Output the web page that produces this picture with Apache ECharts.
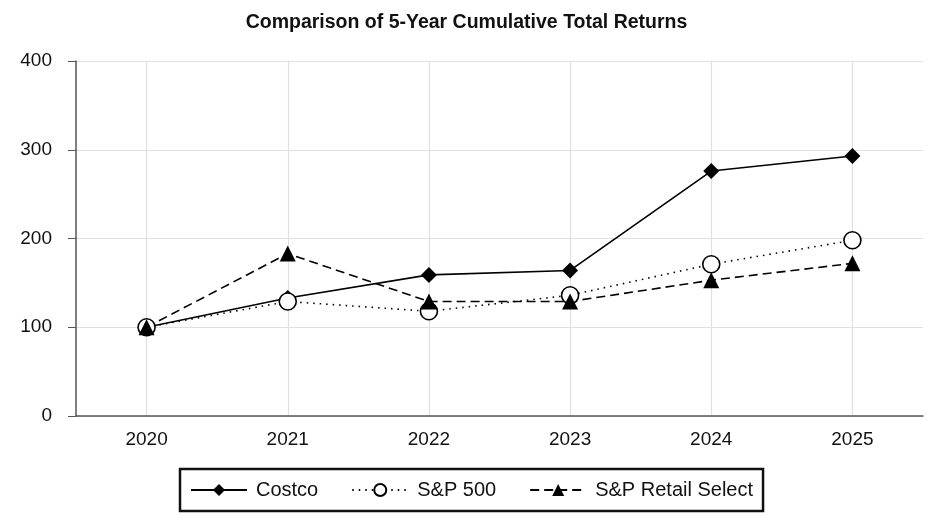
<!DOCTYPE html>
<html>
<head>
<meta charset="utf-8">
<script src="https://cdn.jsdelivr.net/npm/echarts@6/dist/echarts.min.js"></script>
<style>
html,body{margin:0;padding:0;background:#fff;}
#main{width:933px;height:518px;}
</style>
</head>
<body>
<div id="main"></div>
<script>
const years = ['2020', '2021', '2022', '2023', '2024', '2025'];
const costco = [100, 133, 159, 164, 276, 293];
const sp500 = [100, 129, 118, 136, 171, 198];
const retailSelect = [100, 183, 129, 129, 153, 172];
const yTicks = [0, 100, 200, 300, 400];

const chart = echarts.init(document.getElementById('main'));
const font = 'Liberation Sans, Arial, sans-serif';
chart.setOption({
  animation: false,
  backgroundColor: '#fff',
  title: {
    text: 'Comparison of 5-Year Cumulative Total Returns',
    left: 'center', top: 8,
    textStyle: {fontFamily: font, fontSize: 19.5, fontWeight: 'bold', color: '#111'}
  },
  grid: {left: 76, right: 10, top: 61, bottom: 102},
  legend: {
    bottom: 7, left: 180,
    borderColor: '#111', borderWidth: 2.5,
    padding: [11, 10, 11, 10],
    itemGap: 33,
    itemWidth: 56, itemHeight: 15,
    textStyle: {fontFamily: font, fontSize: 20, color: '#111', padding: [0, 0, 0, 4]},
    data: ['Costco', 'S&P 500', 'S&P Retail Select']
  },
  xAxis: {
    type: 'category',
    data: years,
    boundaryGap: true,
    axisLine: {lineStyle: {color: '#555', width: 1.5}},
    axisTick: {alignWithLabel: true, length: 7, lineStyle: {color: '#555'}},
    axisLabel: {fontFamily: font, fontSize: 19, color: '#111', margin: 14},
    splitLine: {show: true, alignWithLabel: true, lineStyle: {color: '#e0e0e0', width: 1.2}}
  },
  yAxis: {
    type: 'value',
    min: yTicks[0], max: yTicks[yTicks.length - 1], interval: 100,
    axisLine: {show: true, lineStyle: {color: '#555', width: 1.5}},
    axisTick: {show: true, length: 8, lineStyle: {color: '#555'}},
    axisLabel: {fontFamily: font, fontSize: 19, color: '#111', margin: 24},
    splitLine: {show: true, lineStyle: {color: '#e0e0e0', width: 1.2}}
  },
  series: [
    {
      name: 'Costco', type: 'line', data: costco,
      symbol: 'diamond', symbolSize: 16,
      itemStyle: {color: '#000'},
      lineStyle: {color: '#000', width: 1.6, type: 'solid'}
    },
    {
      name: 'S&P 500', type: 'line', data: sp500,
      symbol: 'circle', symbolSize: 17,
      itemStyle: {color: '#fff', borderColor: '#000', borderWidth: 1.6},
      lineStyle: {color: '#000', width: 1.6, type: [1.5, 5]}
    },
    {
      name: 'S&P Retail Select', type: 'line', data: retailSelect,
      symbol: 'triangle', symbolSize: 16,
      itemStyle: {color: '#000'},
      lineStyle: {color: '#000', width: 1.6, type: [9, 5]}
    }
  ]
});
</script>
</body>
</html>
